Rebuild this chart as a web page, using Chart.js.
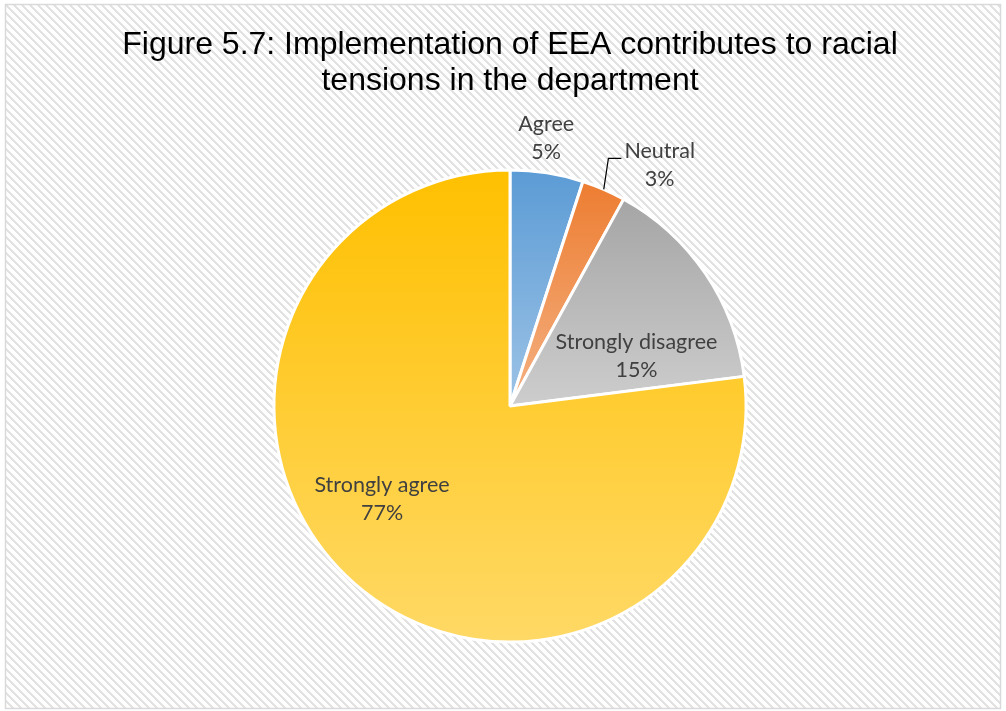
<!DOCTYPE html>
<html>
<head>
<meta charset="utf-8">
<script src="https://cdn.jsdelivr.net/npm/chart.js@4"></script>
<style>
  html, body { margin: 0; padding: 0; background: #fff; }
  #wrap { width: 1006px; height: 711px; }
</style>
</head>
<body>
<div id="wrap"><canvas id="grafico" width="1006" height="711"></canvas></div>
<script>
// dados do gráfico
const categorias = ['Agree', 'Neutral', 'Strongly disagree', 'Strongly agree'];
const percentagens = [5, 3, 15, 77];
const titulo = ['Figure 5.7: Implementation of EEA contributes to racial', 'tensions in the department'];

const corTopo = ['#5b9bd5', '#ed7d31', '#a5a5a5', '#ffc000'];
const corBase = ['#9dc3e6', '#f4b183', '#cdcdcd', '#ffd966'];

// posição dos rótulos: deslocamento angular (graus) e fator do raio
const rotPos = [
  { da: -1.3, rf: 1.145, fora: false },
  { da: 8.5, rf: 1.20, fora: true },
  { da: 12.7, rf: 0.576, fora: false },
  { da: 12.6, rf: 0.67, fora: false }
];

// gradiente vertical por fatia, calculado a partir dos ângulos dos dados
function gradiente(ctx) {
  const chart = ctx.chart;
  const area = chart.chartArea;
  const i = ctx.dataIndex;
  if (!area) return corTopo[i];
  const cx = (area.left + area.right) / 2;
  const cy = (area.top + area.bottom) / 2;
  const R = Math.min(area.right - area.left, area.bottom - area.top) / 2;
  const total = percentagens.reduce((a, b) => a + b, 0);
  let acum = 0;
  for (let k = 0; k < i; k++) acum += percentagens[k];
  const a0 = -Math.PI / 2 + acum / total * 2 * Math.PI;
  const a1 = a0 + percentagens[i] / total * 2 * Math.PI;
  const ys = [cy, cy + R * Math.sin(a0), cy + R * Math.sin(a1)];
  for (let k = -1; k <= 3; k++) {
    const ang = -Math.PI / 2 + k * Math.PI;
    if (ang > a0 && ang < a1) ys.push(cy + R * Math.sin(ang));
  }
  const y0 = Math.min(...ys), y1 = Math.max(...ys);
  const g = chart.ctx.createLinearGradient(0, y0, 0, y1);
  g.addColorStop(0, corTopo[i]);
  g.addColorStop(1, corBase[i]);
  return g;
}

// fundo tracejado e borda
const fundo = {
  id: 'fundo',
  beforeDraw(chart) {
    const c = chart.ctx;
    const p = document.createElement('canvas');
    p.width = 8; p.height = 8;
    const pc = p.getContext('2d');
    pc.fillStyle = '#ffffff';
    pc.fillRect(0, 0, 8, 8);
    pc.fillStyle = '#e2e2e2';
    for (let y = 0; y < 8; y++) {
      for (let x = 0; x < 8; x++) {
        const d = ((x - y) % 8 + 8) % 8;
        if (d < 3) pc.fillRect(x, y, 1, 1);
      }
    }
    c.save();
    c.fillStyle = '#ffffff';
    c.fillRect(0, 0, chart.width, chart.height);
    c.fillStyle = c.createPattern(p, 'repeat');
    c.fillRect(6, 5, chart.width - 12, chart.height - 8);
    c.strokeStyle = '#d9d9d9';
    c.lineWidth = 1.5;
    c.strokeRect(5.5, 4.5, chart.width - 11, chart.height - 7);
    c.restore();
  }
};

// rótulos de dados
const rotulos = {
  id: 'rotulos',
  afterDatasetsDraw(chart) {
    const c = chart.ctx;
    const meta = chart.getDatasetMeta(0);
    c.save();
    c.font = '21.5px Lato, "Noto Sans", sans-serif';
    c.fillStyle = '#404040';
    c.textAlign = 'center';
    c.textBaseline = 'middle';
    meta.data.forEach((arc, i) => {
      const p = arc.getProps(['x', 'y', 'startAngle', 'endAngle', 'outerRadius'], true);
      const meio = (p.startAngle + p.endAngle) / 2;
      const ang = meio + rotPos[i].da * Math.PI / 180;
      const r = p.outerRadius * rotPos[i].rf;
      const x = p.x + r * Math.cos(ang);
      const y = p.y + r * Math.sin(ang);
      c.fillText(categorias[i], x, y - 14);
      c.fillText(percentagens[i] + '%', x, y + 14);
      if (rotPos[i].fora) {
        const w = c.measureText(categorias[i]).width;
        const ex = x - w / 2 - 3;
        const ey = y - 7;
        c.beginPath();
        c.moveTo(p.x + p.outerRadius * Math.cos(meio), p.y + p.outerRadius * Math.sin(meio));
        c.lineTo(ex - 13, ey);
        c.lineTo(ex, ey);
        c.strokeStyle = '#000000';
        c.lineWidth = 1.2;
        c.stroke();
      }
    });
    c.restore();
  }
};

const ctx = document.getElementById('grafico').getContext('2d');

new Chart(ctx, {
  type: 'pie',
  data: {
    labels: categorias,
    datasets: [{
      data: percentagens,
      backgroundColor: gradiente,
      borderColor: '#ffffff',
      borderWidth: 3
    }]
  },
  options: {
    responsive: false,
    animation: false,
    layout: { padding: { left: 14, right: 0, top: 0, bottom: 67.5 } },
    plugins: {
      legend: { display: false },
      tooltip: { enabled: false },
      title: {
        display: true,
        text: titulo,
        color: '#000000',
        font: { family: '"Liberation Sans", Arial, sans-serif', size: 32, weight: 'normal', lineHeight: 1.1 },
        padding: { top: 28, bottom: 70 }
      }
    }
  },
  plugins: [fundo, rotulos]
});
</script>
</body>
</html>
